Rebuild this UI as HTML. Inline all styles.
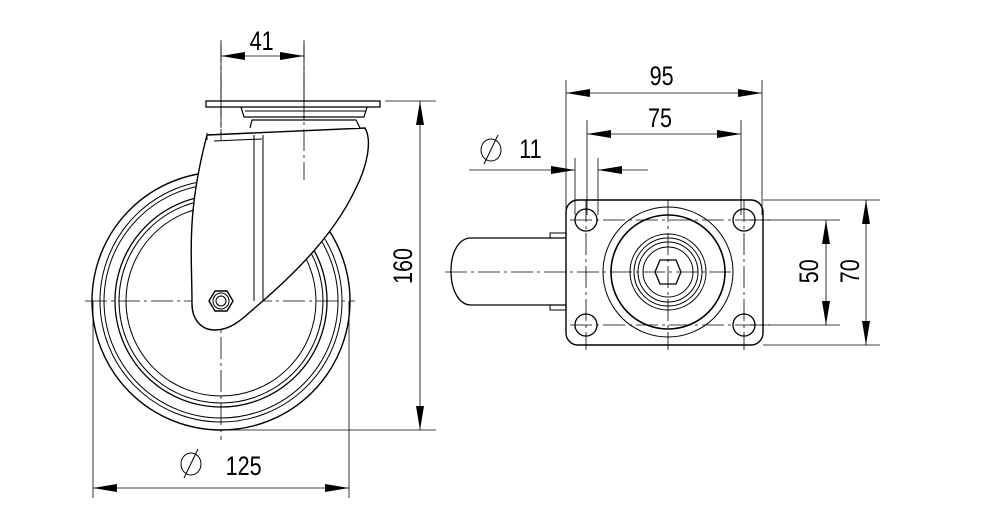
<!DOCTYPE html>
<html><head><meta charset="utf-8"><style>
html,body{margin:0;padding:0;background:#fff}
svg{display:block}
text{font-family:"Liberation Sans",sans-serif;font-size:27px;fill:#000}
</style></head><body>
<svg width="1000" height="531" viewBox="0 0 1000 531" xmlns="http://www.w3.org/2000/svg">
<defs>
<marker id="a" viewBox="0 0 24 8" refX="24" refY="4" markerWidth="24" markerHeight="8" orient="auto-start-reverse" markerUnits="userSpaceOnUse"><path d="M0,0 L24,4 L0,8 z" fill="#000"/></marker>
</defs>
<g fill="none" stroke="#000" stroke-width="1">
<g stroke-dasharray="22,4,3,4" stroke-width="0.8">
<line x1="85" y1="301" x2="355" y2="301"/>
<line x1="221" y1="40" x2="221" y2="440"/>
<line x1="304" y1="40" x2="304" y2="180"/>
</g>
<circle cx="221" cy="301" r="129" stroke-width="1.4"/>
<circle cx="221" cy="301" r="121"/>
<circle cx="221" cy="301" r="117"/>
<circle cx="221" cy="301" r="106" stroke-width="1.3"/>
<circle cx="221" cy="301" r="102"/>
<circle cx="221" cy="301" r="95"/>
<path d="M207,135 L365,128 C372,140 368,165 355,190 C335,232 300,270 250,312 C238,323 228,330 215,330 C200,330 192,318 192,304 C192,255 186,215 207,135 Z" fill="#fff" stroke-width="1.4"/>
<line x1="254" y1="135" x2="254" y2="301"/>
<line x1="263" y1="135" x2="263" y2="301"/>
<line x1="214" y1="141" x2="262" y2="139"/>
<line x1="207" y1="133" x2="207" y2="140"/>
<path d="M250,128 L252,120 L356,120 L360,128" stroke-width="1.2" fill="#fff"/>
<path d="M241,107 L244,117 L364,117 L367,107" stroke-width="1.2" fill="#fff"/>
<line x1="245" y1="111" x2="366" y2="111"/>
<rect x="206" y="101" width="174" height="6" stroke-width="1.3" fill="#fff"/>
<line x1="221" y1="96" x2="221" y2="140" stroke-dasharray="22,4,3,4" stroke-width="0.8"/>
<line x1="304" y1="96" x2="304" y2="180" stroke-dasharray="22,4,3,4" stroke-width="0.8"/>
<polygon points="209,301 215,291 227,291 233,301 227,311 215,311" stroke-width="1.4"/>
<circle cx="221" cy="301" r="8"/>
<circle cx="221" cy="301" r="5"/>
<line x1="221" y1="44" x2="221" y2="100" stroke-width="0.8"/>
<line x1="304" y1="44" x2="304" y2="100" stroke-width="0.8"/>
<line x1="221" y1="56" x2="304" y2="56" marker-start="url(#a)" marker-end="url(#a)" stroke-width="0.8"/>
<line x1="385" y1="101" x2="436" y2="101" stroke-width="0.8"/>
<line x1="221" y1="430" x2="436" y2="430" stroke-width="0.8"/>
<line x1="420" y1="101" x2="420" y2="430" marker-start="url(#a)" marker-end="url(#a)" stroke-width="0.8"/>
<line x1="93" y1="301" x2="93" y2="498" stroke-width="0.8"/>
<line x1="349" y1="301" x2="349" y2="498" stroke-width="0.8"/>
<line x1="93" y1="488" x2="349" y2="488" marker-start="url(#a)" marker-end="url(#a)" stroke-width="0.8"/>
<path d="M566,238 L471,238 C460,238 451,250 451,271 C451,292 460,305 471,305 L566,305" stroke-width="1.3"/>
<line x1="548" y1="238" x2="566" y2="238"/>
<rect x="550" y="233" width="16" height="5"/>
<rect x="550" y="305" width="16" height="5"/>
<rect x="566" y="200" width="197" height="145" rx="12" stroke-width="1.4"/>
<circle cx="586" cy="220" r="11" stroke-width="1.3"/>
<circle cx="744" cy="220" r="11" stroke-width="1.3"/>
<circle cx="586" cy="325" r="11" stroke-width="1.3"/>
<circle cx="744" cy="325" r="11" stroke-width="1.3"/>
<circle cx="668" cy="272" r="65"/>
<circle cx="668" cy="272" r="57" stroke-width="1.6"/>
<circle cx="668" cy="272" r="38"/>
<circle cx="668" cy="272" r="34"/>
<circle cx="668" cy="272" r="30"/>
<circle cx="668" cy="272" r="25"/>
<polygon points="655,272 660,260 676,260 681,272 676,284 660,284" stroke-width="1.3"/>
<g stroke-dasharray="22,4,3,4" stroke-width="0.8">
<line x1="445" y1="272" x2="735" y2="272"/>
<line x1="668" y1="200" x2="668" y2="350"/>
<line x1="586" y1="200" x2="586" y2="350"/>
<line x1="744" y1="200" x2="744" y2="350"/>
<line x1="570" y1="220" x2="770" y2="220"/>
<line x1="570" y1="325" x2="770" y2="325"/>
</g>
<g stroke-width="0.8">
<line x1="566" y1="80" x2="566" y2="215"/>
<line x1="762" y1="80" x2="762" y2="215"/>
<line x1="566" y1="93" x2="762" y2="93" marker-start="url(#a)" marker-end="url(#a)"/>
<line x1="587" y1="120" x2="587" y2="215"/>
<line x1="741" y1="120" x2="741" y2="215"/>
<line x1="587" y1="134" x2="741" y2="134" marker-start="url(#a)" marker-end="url(#a)"/>
<line x1="575" y1="158" x2="575" y2="215"/>
<line x1="598" y1="158" x2="598" y2="215"/>
<line x1="469" y1="170" x2="575" y2="170" marker-end="url(#a)"/>
<line x1="648" y1="170" x2="598" y2="170" marker-end="url(#a)"/>
<line x1="750" y1="220" x2="840" y2="220"/>
<line x1="750" y1="325" x2="840" y2="325"/>
<line x1="826" y1="220" x2="826" y2="325" marker-start="url(#a)" marker-end="url(#a)"/>
<line x1="763" y1="200" x2="880" y2="200"/>
<line x1="763" y1="345" x2="880" y2="345"/>
<line x1="866" y1="200" x2="866" y2="345" marker-start="url(#a)" marker-end="url(#a)"/>
</g>
<ellipse cx="191" cy="464" rx="10" ry="11"/>
<line x1="184" y1="478" x2="198" y2="449"/>
<ellipse cx="491" cy="150" rx="10" ry="11"/>
<line x1="484" y1="164" x2="498" y2="135"/>
</g>
<g transform="scale(0.8,1)">
<text x="312" y="50">41</text>
<text x="282" y="475">125</text>
<text x="649" y="158">11</text>
<text x="812" y="85">95</text>
<text x="810" y="127">75</text>
</g>
<text transform="translate(412,268) rotate(-90) scale(0.8,1)" x="-20" y="0">160</text>
<text transform="translate(818,272) rotate(-90) scale(0.8,1)" x="-14" y="0">50</text>
<text transform="translate(859,272) rotate(-90) scale(0.8,1)" x="-14" y="0">70</text>
</svg>
</body></html>
